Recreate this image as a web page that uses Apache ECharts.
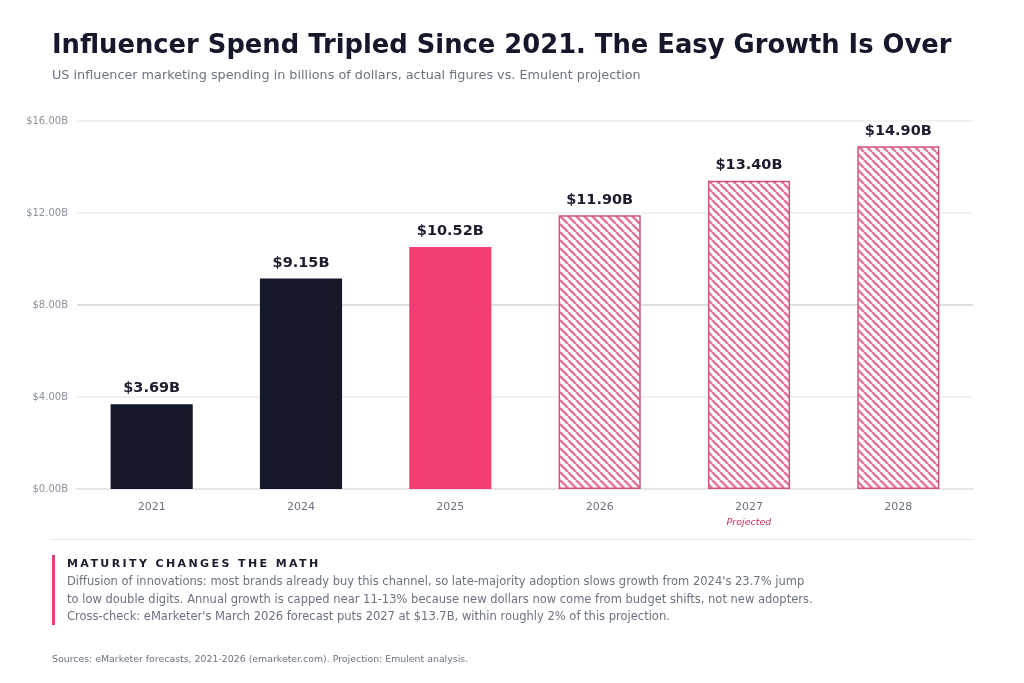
<!DOCTYPE html>
<html><head><meta charset="utf-8">
<script src="https://cdn.jsdelivr.net/npm/echarts@6/dist/echarts.min.js"></script>
<style>
html,body{margin:0;padding:0;background:#fff;width:1024px;height:683px;overflow:hidden;font-family:'DejaVu Sans',sans-serif;}
#chart{position:absolute;left:0;top:0;width:1024px;height:683px;}
#sep{position:absolute;left:52px;top:539px;width:921px;height:1px;background:#e5e7eb;}
#callout{position:absolute;left:52px;top:555px;width:900px;border-left:3px solid #f03e72;padding-left:12px;height:70px;}
#callout h4{margin:0;padding-top:2px;font-size:11px;font-weight:bold;letter-spacing:2.4px;color:#1c1c2e;line-height:14px;}
#callout p{margin:2px 0 0 0;font-size:11.5px;color:#6b7280;line-height:17.5px;}
#src{position:absolute;left:52px;top:653px;font-size:9.4px;color:#6b7280;}
</style></head>
<body>
<div id="chart"></div>
<div id="sep"></div>
<div id="callout"><h4 id="calloutHead"></h4><p id="calloutBody"></p></div>
<div id="src"></div>
<script>
const categories = ['2021','2024','2025','2026','2027','2028'];
const values = [3.69, 9.15, 10.52, 11.90, 13.40, 14.90];
const kinds = ['actual','actual','current','projected','projected','projected'];
const yTicks = [0, 4, 8, 12, 16];
const titleText = 'Influencer Spend Tripled Since 2021. The Easy Growth Is Over';
const subtitleText = 'US influencer marketing spending in billions of dollars, actual figures vs. Emulent projection';
const calloutHead = 'MATURITY CHANGES THE MATH';
const calloutLines = [
  "Diffusion of innovations: most brands already buy this channel, so late-majority adoption slows growth from 2024's 23.7% jump",
  "to low double digits. Annual growth is capped near 11-13% because new dollars now come from budget shifts, not new adopters.",
  "Cross-check: eMarketer's March 2026 forecast puts 2027 at $13.7B, within roughly 2% of this projection."
];
const sourceText = 'Sources: eMarketer forecasts, 2021-2026 (emarketer.com). Projection: Emulent analysis.';
const projectedLabelAt = '2027';

document.getElementById('calloutHead').textContent = calloutHead;
document.getElementById('calloutBody').innerHTML = calloutLines.map(s => s.replace(/&/g,'&amp;').replace(/</g,'&lt;')).join('<br>');
document.getElementById('src').textContent = sourceText;

// hatch pattern
const tile = document.createElement('canvas');
const S = 8;
tile.width = S; tile.height = S;
const tc = tile.getContext('2d');
tc.fillStyle = '#ffffff'; tc.fillRect(0,0,S,S);
tc.strokeStyle = '#e07599'; tc.lineWidth = 2.5;
for (const x0 of [-S, 0, S]) { tc.beginPath(); tc.moveTo(x0, 0); tc.lineTo(x0 + S, S); tc.stroke(); }

const colors = { actual: '#15172a', current: '#f23e73' };
const data = values.map((v, i) => {
  const k = kinds[i];
  if (k === 'projected') {
    return { value: v, itemStyle: { color: { image: tile, repeat: 'repeat' }, borderColor: '#d2517d', borderWidth: 1.5 } };
  }
  return { value: v, itemStyle: { color: colors[k] } };
});

const chart = echarts.init(document.getElementById('chart'), null, { renderer: 'canvas' });
chart.setOption({
  animation: false,
  textStyle: { fontFamily: 'DejaVu Sans' },
  title: {
    text: titleText, subtext: subtitleText, left: 47, top: 28, itemGap: 10,
    textStyle: { fontFamily: 'DejaVu Sans', fontSize: 25.8, fontWeight: 'bold', color: '#15172a' },
    subtextStyle: { fontFamily: 'DejaVu Sans', fontSize: 12.8, color: '#6b7280' }
  },
  grid: { left: 77, right: 51, top: 121, bottom: 194, containLabel: false },
  xAxis: {
    type: 'category', data: categories,
    axisLine: { show: true, lineStyle: { color: '#e5e5e8', width: 2 } },
    axisTick: { show: false },
    axisLabel: {
      margin: 10,
      formatter: v => v === projectedLabelAt ? '{y|' + v + '}\n{p|Projected}' : '{y|' + v + '}',
      rich: {
        y: { fontFamily: 'DejaVu Sans', fontSize: 11, color: '#6b7280', lineHeight: 16 },
        p: { fontFamily: 'DejaVu Sans', fontSize: 9.5, fontStyle: 'italic', color: '#c2325f', lineHeight: 16 }
      }
    }
  },
  yAxis: {
    type: 'value', min: yTicks[0], max: yTicks[yTicks.length - 1], interval: yTicks[1] - yTicks[0],
    axisLine: { show: false }, axisTick: { show: false },
    axisLabel: { margin: 9, fontFamily: 'DejaVu Sans', fontSize: 10, color: '#8a929c', formatter: v => '$' + v.toFixed(2) + 'B' },
    splitLine: { lineStyle: { color: ['#e8e8ea', '#ececee', '#d6d6da', '#ececee', '#ececee'], width: 1.5 } }
  },
  series: [{
    type: 'bar', data: data, barWidth: '55%',
    label: {
      show: true, position: 'top', distance: 8,
      fontFamily: 'DejaVu Sans', fontSize: 14.5, fontWeight: 'bold', color: '#1c1c2e',
      formatter: p => '$' + p.value.toFixed(2) + 'B'
    }
  }]
});
</script>
</body></html>
